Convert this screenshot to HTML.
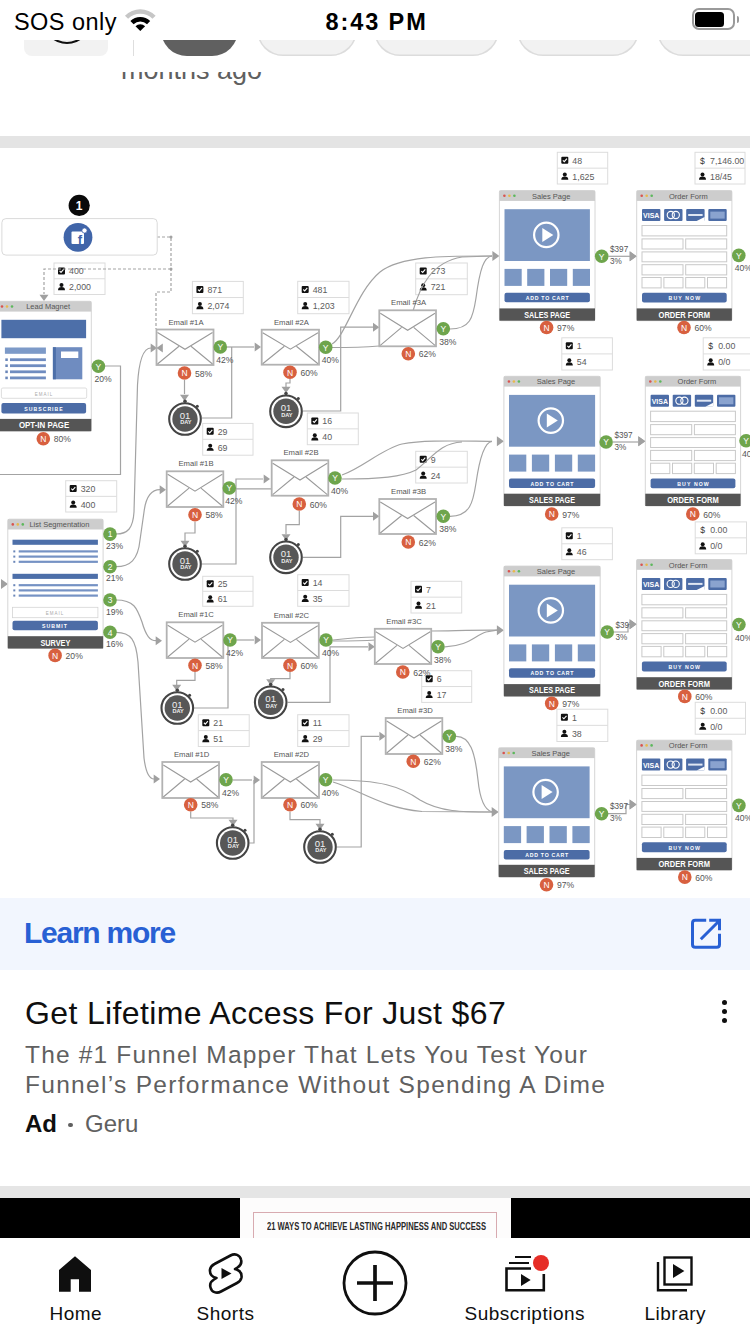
<!DOCTYPE html>
<html><head><meta charset="utf-8">
<style>
html,body{margin:0;padding:0;}
body{width:750px;height:1334px;position:relative;overflow:hidden;background:#fff;font-family:"Liberation Sans", sans-serif;}
.abs{position:absolute;}
.t{position:absolute;white-space:nowrap;line-height:1;}
</style></head><body>
<div class="t" style="left:121px;top:57px;font-size:27px;color:#606060;">months ago</div>
<div class="abs" style="left:0;top:136px;width:750px;height:12px;background:#e4e4e4;"></div>
<svg class="abs" style="left:0;top:148px;" width="750" height="750" viewBox="0 148 750 750" font-family='"Liberation Sans", sans-serif'>
<rect x="0" y="148" width="750" height="750" fill="#fff"/>
<rect x="54" y="263" width="51" height="31.5" fill="#fff" stroke="#dcdcdc" stroke-width="1"/>
<line x1="54" y1="278.75" x2="105" y2="278.75" stroke="#dcdcdc" stroke-width="1"/>
<rect x="58" y="267.375" width="7" height="7" rx="1" fill="#111"/>
<path d="M59.6,270.975 L61,272.375 L63.6,269.375" stroke="#fff" stroke-width="1.1" fill="none"/>
<circle cx="61.5" cy="285.025" r="2" fill="#111"/>
<path d="M58,290.22499999999997 Q58,287.025 61.5,287.025 Q65,287.025 65,290.22499999999997 Z" fill="#111"/>
<text x="69.0" y="274.3" font-size="8.8" fill="#5c5c5c" text-anchor="start" font-weight="normal" >400</text>
<text x="69.0" y="290.0" font-size="8.8" fill="#5c5c5c" text-anchor="start" font-weight="normal" >2,000</text>
<rect x="192.4" y="281.4" width="50.900000000000006" height="32.30000000000001" fill="#fff" stroke="#dcdcdc" stroke-width="1"/>
<line x1="192.4" y1="297.54999999999995" x2="243.3" y2="297.54999999999995" stroke="#dcdcdc" stroke-width="1"/>
<rect x="196.4" y="285.97499999999997" width="7" height="7" rx="1" fill="#111"/>
<path d="M198.0,289.575 L199.4,290.97499999999997 L202.0,287.97499999999997" stroke="#fff" stroke-width="1.1" fill="none"/>
<circle cx="199.9" cy="304.0249999999999" r="2" fill="#111"/>
<path d="M196.4,309.2249999999999 Q196.4,306.0249999999999 199.9,306.0249999999999 Q203.4,306.0249999999999 203.4,309.2249999999999 Z" fill="#111"/>
<text x="207.4" y="292.9" font-size="8.8" fill="#5c5c5c" text-anchor="start" font-weight="normal" >871</text>
<text x="207.4" y="309.0" font-size="8.8" fill="#5c5c5c" text-anchor="start" font-weight="normal" >2,074</text>
<rect x="297.7" y="281.3" width="51.30000000000001" height="32.39999999999998" fill="#fff" stroke="#dcdcdc" stroke-width="1"/>
<line x1="297.7" y1="297.5" x2="349" y2="297.5" stroke="#dcdcdc" stroke-width="1"/>
<rect x="301.7" y="285.9" width="7" height="7" rx="1" fill="#111"/>
<path d="M303.3,289.5 L304.7,290.9 L307.3,287.9" stroke="#fff" stroke-width="1.1" fill="none"/>
<circle cx="305.2" cy="304.0" r="2" fill="#111"/>
<path d="M301.7,309.2 Q301.7,306.0 305.2,306.0 Q308.7,306.0 308.7,309.2 Z" fill="#111"/>
<text x="312.7" y="292.8" font-size="8.8" fill="#5c5c5c" text-anchor="start" font-weight="normal" >481</text>
<text x="312.7" y="309.0" font-size="8.8" fill="#5c5c5c" text-anchor="start" font-weight="normal" >1,203</text>
<rect x="415.7" y="263" width="51.60000000000002" height="31.69999999999999" fill="#fff" stroke="#dcdcdc" stroke-width="1"/>
<line x1="415.7" y1="278.85" x2="467.3" y2="278.85" stroke="#dcdcdc" stroke-width="1"/>
<rect x="419.7" y="267.425" width="7" height="7" rx="1" fill="#111"/>
<path d="M421.3,271.02500000000003 L422.7,272.425 L425.3,269.425" stroke="#fff" stroke-width="1.1" fill="none"/>
<circle cx="423.2" cy="285.175" r="2" fill="#111"/>
<path d="M419.7,290.375 Q419.7,287.175 423.2,287.175 Q426.7,287.175 426.7,290.375 Z" fill="#111"/>
<text x="430.7" y="274.3" font-size="8.8" fill="#5c5c5c" text-anchor="start" font-weight="normal" >273</text>
<text x="430.7" y="290.2" font-size="8.8" fill="#5c5c5c" text-anchor="start" font-weight="normal" >721</text>
<rect x="557.3" y="152.3" width="50.40000000000009" height="31.69999999999999" fill="#fff" stroke="#dcdcdc" stroke-width="1"/>
<line x1="557.3" y1="168.15" x2="607.7" y2="168.15" stroke="#dcdcdc" stroke-width="1"/>
<rect x="561.3" y="156.72500000000002" width="7" height="7" rx="1" fill="#111"/>
<path d="M562.9,160.32500000000002 L564.3,161.72500000000002 L566.9,158.72500000000002" stroke="#fff" stroke-width="1.1" fill="none"/>
<circle cx="564.8" cy="174.475" r="2" fill="#111"/>
<path d="M561.3,179.67499999999998 Q561.3,176.475 564.8,176.475 Q568.3,176.475 568.3,179.67499999999998 Z" fill="#111"/>
<text x="572.3" y="163.6" font-size="8.8" fill="#5c5c5c" text-anchor="start" font-weight="normal" >48</text>
<text x="572.3" y="179.5" font-size="8.8" fill="#5c5c5c" text-anchor="start" font-weight="normal" >1,625</text>
<rect x="695" y="152.3" width="50" height="31.69999999999999" fill="#fff" stroke="#dcdcdc" stroke-width="1"/>
<line x1="695" y1="168.15" x2="745" y2="168.15" stroke="#dcdcdc" stroke-width="1"/>
<text x="702.5" y="163.6" font-size="8.6" fill="#333" text-anchor="middle" font-weight="normal" >$</text>
<circle cx="702.5" cy="174.475" r="2" fill="#111"/>
<path d="M699,179.67499999999998 Q699,176.475 702.5,176.475 Q706,176.475 706,179.67499999999998 Z" fill="#111"/>
<text x="710.0" y="163.6" font-size="8.8" fill="#5c5c5c" text-anchor="start" font-weight="normal" >7,146.00</text>
<text x="710.0" y="179.5" font-size="8.8" fill="#5c5c5c" text-anchor="start" font-weight="normal" >18/45</text>
<rect x="202.7" y="423.4" width="50.30000000000001" height="31.80000000000001" fill="#fff" stroke="#dcdcdc" stroke-width="1"/>
<line x1="202.7" y1="439.29999999999995" x2="253" y2="439.29999999999995" stroke="#dcdcdc" stroke-width="1"/>
<rect x="206.7" y="427.84999999999997" width="7" height="7" rx="1" fill="#111"/>
<path d="M208.29999999999998,431.45 L209.7,432.84999999999997 L212.29999999999998,429.84999999999997" stroke="#fff" stroke-width="1.1" fill="none"/>
<circle cx="210.2" cy="445.6499999999999" r="2" fill="#111"/>
<path d="M206.7,450.8499999999999 Q206.7,447.6499999999999 210.2,447.6499999999999 Q213.7,447.6499999999999 213.7,450.8499999999999 Z" fill="#111"/>
<text x="217.7" y="434.7" font-size="8.8" fill="#5c5c5c" text-anchor="start" font-weight="normal" >29</text>
<text x="217.7" y="450.6" font-size="8.8" fill="#5c5c5c" text-anchor="start" font-weight="normal" >69</text>
<rect x="307.3" y="413" width="51.0" height="31.69999999999999" fill="#fff" stroke="#dcdcdc" stroke-width="1"/>
<line x1="307.3" y1="428.85" x2="358.3" y2="428.85" stroke="#dcdcdc" stroke-width="1"/>
<rect x="311.3" y="417.425" width="7" height="7" rx="1" fill="#111"/>
<path d="M312.90000000000003,421.02500000000003 L314.3,422.425 L316.90000000000003,419.425" stroke="#fff" stroke-width="1.1" fill="none"/>
<circle cx="314.8" cy="435.175" r="2" fill="#111"/>
<path d="M311.3,440.375 Q311.3,437.175 314.8,437.175 Q318.3,437.175 318.3,440.375 Z" fill="#111"/>
<text x="322.3" y="424.3" font-size="8.8" fill="#5c5c5c" text-anchor="start" font-weight="normal" >16</text>
<text x="322.3" y="440.2" font-size="8.8" fill="#5c5c5c" text-anchor="start" font-weight="normal" >40</text>
<rect x="65.7" y="480.7" width="51.0" height="31.30000000000001" fill="#fff" stroke="#dcdcdc" stroke-width="1"/>
<line x1="65.7" y1="496.35" x2="116.7" y2="496.35" stroke="#dcdcdc" stroke-width="1"/>
<rect x="69.7" y="485.025" width="7" height="7" rx="1" fill="#111"/>
<path d="M71.3,488.625 L72.7,490.025 L75.3,487.025" stroke="#fff" stroke-width="1.1" fill="none"/>
<circle cx="73.2" cy="502.575" r="2" fill="#111"/>
<path d="M69.7,507.775 Q69.7,504.575 73.2,504.575 Q76.7,504.575 76.7,507.775 Z" fill="#111"/>
<text x="80.7" y="491.9" font-size="8.8" fill="#5c5c5c" text-anchor="start" font-weight="normal" >320</text>
<text x="80.7" y="507.6" font-size="8.8" fill="#5c5c5c" text-anchor="start" font-weight="normal" >400</text>
<rect x="415.7" y="451.3" width="51.60000000000002" height="31.69999999999999" fill="#fff" stroke="#dcdcdc" stroke-width="1"/>
<line x1="415.7" y1="467.15" x2="467.3" y2="467.15" stroke="#dcdcdc" stroke-width="1"/>
<rect x="419.7" y="455.725" width="7" height="7" rx="1" fill="#111"/>
<path d="M421.3,459.32500000000005 L422.7,460.725 L425.3,457.725" stroke="#fff" stroke-width="1.1" fill="none"/>
<circle cx="423.2" cy="473.47499999999997" r="2" fill="#111"/>
<path d="M419.7,478.67499999999995 Q419.7,475.47499999999997 423.2,475.47499999999997 Q426.7,475.47499999999997 426.7,478.67499999999995 Z" fill="#111"/>
<text x="430.7" y="462.6" font-size="8.8" fill="#5c5c5c" text-anchor="start" font-weight="normal" >9</text>
<text x="430.7" y="478.5" font-size="8.8" fill="#5c5c5c" text-anchor="start" font-weight="normal" >24</text>
<rect x="561.8" y="337.8" width="50.60000000000002" height="32.19999999999999" fill="#fff" stroke="#dcdcdc" stroke-width="1"/>
<line x1="561.8" y1="353.9" x2="612.4" y2="353.9" stroke="#dcdcdc" stroke-width="1"/>
<rect x="565.8" y="342.35" width="7" height="7" rx="1" fill="#111"/>
<path d="M567.4,345.95000000000005 L568.8,347.35 L571.4,344.35" stroke="#fff" stroke-width="1.1" fill="none"/>
<circle cx="569.3" cy="360.34999999999997" r="2" fill="#111"/>
<path d="M565.8,365.54999999999995 Q565.8,362.34999999999997 569.3,362.34999999999997 Q572.8,362.34999999999997 572.8,365.54999999999995 Z" fill="#111"/>
<text x="576.8" y="349.2" font-size="8.8" fill="#5c5c5c" text-anchor="start" font-weight="normal" >1</text>
<text x="576.8" y="365.3" font-size="8.8" fill="#5c5c5c" text-anchor="start" font-weight="normal" >54</text>
<rect x="703.2" y="337.8" width="49.799999999999955" height="32.19999999999999" fill="#fff" stroke="#dcdcdc" stroke-width="1"/>
<line x1="703.2" y1="353.9" x2="753" y2="353.9" stroke="#dcdcdc" stroke-width="1"/>
<text x="710.7" y="349.2" font-size="8.6" fill="#333" text-anchor="middle" font-weight="normal" >$</text>
<circle cx="710.7" cy="360.34999999999997" r="2" fill="#111"/>
<path d="M707.2,365.54999999999995 Q707.2,362.34999999999997 710.7,362.34999999999997 Q714.2,362.34999999999997 714.2,365.54999999999995 Z" fill="#111"/>
<text x="718.2" y="349.2" font-size="8.8" fill="#5c5c5c" text-anchor="start" font-weight="normal" >0.00</text>
<text x="718.2" y="365.3" font-size="8.8" fill="#5c5c5c" text-anchor="start" font-weight="normal" >0/0</text>
<rect x="202.7" y="576.3" width="50.30000000000001" height="30.0" fill="#fff" stroke="#dcdcdc" stroke-width="1"/>
<line x1="202.7" y1="591.3" x2="253" y2="591.3" stroke="#dcdcdc" stroke-width="1"/>
<rect x="206.7" y="580.3" width="7" height="7" rx="1" fill="#111"/>
<path d="M208.29999999999998,583.9 L209.7,585.3 L212.29999999999998,582.3" stroke="#fff" stroke-width="1.1" fill="none"/>
<circle cx="210.2" cy="597.1999999999999" r="2" fill="#111"/>
<path d="M206.7,602.4 Q206.7,599.1999999999999 210.2,599.1999999999999 Q213.7,599.1999999999999 213.7,602.4 Z" fill="#111"/>
<text x="217.7" y="587.2" font-size="8.8" fill="#5c5c5c" text-anchor="start" font-weight="normal" >25</text>
<text x="217.7" y="602.2" font-size="8.8" fill="#5c5c5c" text-anchor="start" font-weight="normal" >61</text>
<rect x="297.7" y="574.7" width="51.30000000000001" height="31.59999999999991" fill="#fff" stroke="#dcdcdc" stroke-width="1"/>
<line x1="297.7" y1="590.5" x2="349" y2="590.5" stroke="#dcdcdc" stroke-width="1"/>
<rect x="301.7" y="579.1" width="7" height="7" rx="1" fill="#111"/>
<path d="M303.3,582.7 L304.7,584.1 L307.3,581.1" stroke="#fff" stroke-width="1.1" fill="none"/>
<circle cx="305.2" cy="596.8" r="2" fill="#111"/>
<path d="M301.7,602.0 Q301.7,598.8 305.2,598.8 Q308.7,598.8 308.7,602.0 Z" fill="#111"/>
<text x="312.7" y="586.0" font-size="8.8" fill="#5c5c5c" text-anchor="start" font-weight="normal" >14</text>
<text x="312.7" y="601.8" font-size="8.8" fill="#5c5c5c" text-anchor="start" font-weight="normal" >35</text>
<rect x="411" y="581.3" width="50.69999999999999" height="31.700000000000045" fill="#fff" stroke="#dcdcdc" stroke-width="1"/>
<line x1="411" y1="597.15" x2="461.7" y2="597.15" stroke="#dcdcdc" stroke-width="1"/>
<rect x="415" y="585.7249999999999" width="7" height="7" rx="1" fill="#111"/>
<path d="M416.6,589.3249999999999 L418,590.7249999999999 L420.6,587.7249999999999" stroke="#fff" stroke-width="1.1" fill="none"/>
<circle cx="418.5" cy="603.475" r="2" fill="#111"/>
<path d="M415,608.6750000000001 Q415,605.475 418.5,605.475 Q422,605.475 422,608.6750000000001 Z" fill="#111"/>
<text x="426.0" y="592.6" font-size="8.8" fill="#5c5c5c" text-anchor="start" font-weight="normal" >7</text>
<text x="426.0" y="608.5" font-size="8.8" fill="#5c5c5c" text-anchor="start" font-weight="normal" >21</text>
<rect x="561.8" y="527.8" width="50.60000000000002" height="31.90000000000009" fill="#fff" stroke="#dcdcdc" stroke-width="1"/>
<line x1="561.8" y1="543.75" x2="612.4" y2="543.75" stroke="#dcdcdc" stroke-width="1"/>
<rect x="565.8" y="532.275" width="7" height="7" rx="1" fill="#111"/>
<path d="M567.4,535.875 L568.8,537.275 L571.4,534.275" stroke="#fff" stroke-width="1.1" fill="none"/>
<circle cx="569.3" cy="550.125" r="2" fill="#111"/>
<path d="M565.8,555.325 Q565.8,552.125 569.3,552.125 Q572.8,552.125 572.8,555.325 Z" fill="#111"/>
<text x="576.8" y="539.2" font-size="8.8" fill="#5c5c5c" text-anchor="start" font-weight="normal" >1</text>
<text x="576.8" y="555.1" font-size="8.8" fill="#5c5c5c" text-anchor="start" font-weight="normal" >46</text>
<rect x="695.2" y="521.9" width="51.299999999999955" height="31.899999999999977" fill="#fff" stroke="#dcdcdc" stroke-width="1"/>
<line x1="695.2" y1="537.8499999999999" x2="746.5" y2="537.8499999999999" stroke="#dcdcdc" stroke-width="1"/>
<text x="702.7" y="533.3" font-size="8.6" fill="#333" text-anchor="middle" font-weight="normal" >$</text>
<circle cx="702.7" cy="544.2249999999999" r="2" fill="#111"/>
<path d="M699.2,549.425 Q699.2,546.2249999999999 702.7,546.2249999999999 Q706.2,546.2249999999999 706.2,549.425 Z" fill="#111"/>
<text x="710.2" y="533.3" font-size="8.8" fill="#5c5c5c" text-anchor="start" font-weight="normal" >0.00</text>
<text x="710.2" y="549.2" font-size="8.8" fill="#5c5c5c" text-anchor="start" font-weight="normal" >0/0</text>
<rect x="198.3" y="714.7" width="50.89999999999998" height="31.799999999999955" fill="#fff" stroke="#dcdcdc" stroke-width="1"/>
<line x1="198.3" y1="730.6" x2="249.2" y2="730.6" stroke="#dcdcdc" stroke-width="1"/>
<rect x="202.3" y="719.1500000000001" width="7" height="7" rx="1" fill="#111"/>
<path d="M203.9,722.7500000000001 L205.3,724.1500000000001 L207.9,721.1500000000001" stroke="#fff" stroke-width="1.1" fill="none"/>
<circle cx="205.8" cy="736.9499999999999" r="2" fill="#111"/>
<path d="M202.3,742.15 Q202.3,738.9499999999999 205.8,738.9499999999999 Q209.3,738.9499999999999 209.3,742.15 Z" fill="#111"/>
<text x="213.3" y="726.1" font-size="8.8" fill="#5c5c5c" text-anchor="start" font-weight="normal" >21</text>
<text x="213.3" y="741.9" font-size="8.8" fill="#5c5c5c" text-anchor="start" font-weight="normal" >51</text>
<rect x="297.7" y="714.7" width="51.30000000000001" height="31.799999999999955" fill="#fff" stroke="#dcdcdc" stroke-width="1"/>
<line x1="297.7" y1="730.6" x2="349" y2="730.6" stroke="#dcdcdc" stroke-width="1"/>
<rect x="301.7" y="719.1500000000001" width="7" height="7" rx="1" fill="#111"/>
<path d="M303.3,722.7500000000001 L304.7,724.1500000000001 L307.3,721.1500000000001" stroke="#fff" stroke-width="1.1" fill="none"/>
<circle cx="305.2" cy="736.9499999999999" r="2" fill="#111"/>
<path d="M301.7,742.15 Q301.7,738.9499999999999 305.2,738.9499999999999 Q308.7,738.9499999999999 308.7,742.15 Z" fill="#111"/>
<text x="312.7" y="726.1" font-size="8.8" fill="#5c5c5c" text-anchor="start" font-weight="normal" >11</text>
<text x="312.7" y="741.9" font-size="8.8" fill="#5c5c5c" text-anchor="start" font-weight="normal" >29</text>
<rect x="421.7" y="670.7" width="50.0" height="31.699999999999932" fill="#fff" stroke="#dcdcdc" stroke-width="1"/>
<line x1="421.7" y1="686.55" x2="471.7" y2="686.55" stroke="#dcdcdc" stroke-width="1"/>
<rect x="425.7" y="675.125" width="7" height="7" rx="1" fill="#111"/>
<path d="M427.3,678.725 L428.7,680.125 L431.3,677.125" stroke="#fff" stroke-width="1.1" fill="none"/>
<circle cx="429.2" cy="692.8749999999999" r="2" fill="#111"/>
<path d="M425.7,698.0749999999999 Q425.7,694.8749999999999 429.2,694.8749999999999 Q432.7,694.8749999999999 432.7,698.0749999999999 Z" fill="#111"/>
<text x="436.7" y="682.0" font-size="8.8" fill="#5c5c5c" text-anchor="start" font-weight="normal" >6</text>
<text x="436.7" y="697.9" font-size="8.8" fill="#5c5c5c" text-anchor="start" font-weight="normal" >17</text>
<rect x="556.9" y="709.2" width="50.89999999999998" height="32.299999999999955" fill="#fff" stroke="#dcdcdc" stroke-width="1"/>
<line x1="556.9" y1="725.35" x2="607.8" y2="725.35" stroke="#dcdcdc" stroke-width="1"/>
<rect x="560.9" y="713.7750000000001" width="7" height="7" rx="1" fill="#111"/>
<path d="M562.5,717.3750000000001 L563.9,718.7750000000001 L566.5,715.7750000000001" stroke="#fff" stroke-width="1.1" fill="none"/>
<circle cx="564.4" cy="731.8249999999999" r="2" fill="#111"/>
<path d="M560.9,737.025 Q560.9,733.8249999999999 564.4,733.8249999999999 Q567.9,733.8249999999999 567.9,737.025 Z" fill="#111"/>
<text x="571.9" y="720.7" font-size="8.8" fill="#5c5c5c" text-anchor="start" font-weight="normal" >1</text>
<text x="571.9" y="736.8" font-size="8.8" fill="#5c5c5c" text-anchor="start" font-weight="normal" >38</text>
<rect x="695.2" y="702.3" width="50.299999999999955" height="31.90000000000009" fill="#fff" stroke="#dcdcdc" stroke-width="1"/>
<line x1="695.2" y1="718.25" x2="745.5" y2="718.25" stroke="#dcdcdc" stroke-width="1"/>
<text x="702.7" y="713.7" font-size="8.6" fill="#333" text-anchor="middle" font-weight="normal" >$</text>
<circle cx="702.7" cy="724.625" r="2" fill="#111"/>
<path d="M699.2,729.825 Q699.2,726.625 702.7,726.625 Q706.2,726.625 706.2,729.825 Z" fill="#111"/>
<text x="710.2" y="713.7" font-size="8.8" fill="#5c5c5c" text-anchor="start" font-weight="normal" >0.00</text>
<text x="710.2" y="729.6" font-size="8.8" fill="#5c5c5c" text-anchor="start" font-weight="normal" >0/0</text>
<path d="M157,237 H171 V292 H156 V329" fill="none" stroke="#a3a3a3" stroke-width="1.2" stroke-dasharray="3,2"/>
<path d="M171,269 H44 V294" fill="none" stroke="#a3a3a3" stroke-width="1.2" stroke-dasharray="3,2"/>
<polygon points="44,301 39.5,294.7 48.5,294.7" fill="#a0a0a0"/>
<circle cx="171" cy="237" r="1.5" fill="#a3a3a3"/><circle cx="171" cy="269" r="1.5" fill="#a3a3a3"/>
<path d="M105,366 H120.5 V474.5 H0" fill="none" stroke="#a3a3a3" stroke-width="1.2"/>
<polygon points="8,584 1.0,579 1.0,589" fill="#a0a0a0"/>
<path d="M116,534 C128,534 133,528 134,512 L137.5,385 C139,358 144,348 151,348" fill="none" stroke="#a3a3a3" stroke-width="1.2"/>
<polygon points="157,348 150.7,343.5 150.7,352.5" fill="#a0a0a0"/>
<path d="M116,566.7 C130,566.7 138,560 140,540 L144,512 C146,495 152,489.7 160,489.7" fill="none" stroke="#a3a3a3" stroke-width="1.2"/>
<polygon points="166,489.7 159.7,485.2 159.7,494.2" fill="#a0a0a0"/>
<path d="M116,600 C134,600 137,608 142,622 C146,636 150,640.7 156,640.7" fill="none" stroke="#a3a3a3" stroke-width="1.2"/>
<polygon points="162,640.7 155.7,636.2 155.7,645.2" fill="#a0a0a0"/>
<path d="M116,632.3 C131,632.3 136,640 138,662 L144,758 C146,774 150,779 154,779" fill="none" stroke="#a3a3a3" stroke-width="1.2"/>
<polygon points="160,779 153.7,774.5 153.7,783.5" fill="#a0a0a0"/>
<path d="M227,347 H254" fill="none" stroke="#a3a3a3" stroke-width="1.2"/>
<path d="M202,418 H231.7 V347" fill="none" stroke="#a3a3a3" stroke-width="1.2"/>
<polygon points="261,347 254.7,342.5 254.7,351.5" fill="#a0a0a0"/>
<path d="M236,488.8 H272" fill="none" stroke="#a3a3a3" stroke-width="1.2"/>
<path d="M202,564 H236 V479 H263" fill="none" stroke="#a3a3a3" stroke-width="1.2"/>
<polygon points="270,479 263.7,474.5 263.7,483.5" fill="#a0a0a0"/>
<path d="M237,640 H254" fill="none" stroke="#a3a3a3" stroke-width="1.2"/>
<path d="M194,708 H228 V640" fill="none" stroke="#a3a3a3" stroke-width="1.2"/>
<polygon points="261,640 254.7,635.5 254.7,644.5" fill="#a0a0a0"/>
<path d="M233,780 H252" fill="none" stroke="#a3a3a3" stroke-width="1.2"/>
<path d="M249.5,843 H254 V780" fill="none" stroke="#a3a3a3" stroke-width="1.2"/>
<polygon points="260,780 253.7,775.5 253.7,784.5" fill="#a0a0a0"/>
<path d="M184.5,380 V394" fill="none" stroke="#a3a3a3" stroke-width="1.2"/>
<polygon points="184.5,401 180.0,394.7 189.0,394.7" fill="#a0a0a0"/>
<path d="M195,521.7 V533 H185 V541" fill="none" stroke="#a3a3a3" stroke-width="1.2"/>
<polygon points="185,547 180.5,540.7 189.5,540.7" fill="#a0a0a0"/>
<path d="M195,672 V680.3 H176.7 V685" fill="none" stroke="#a3a3a3" stroke-width="1.2"/>
<polygon points="176.7,691 172.2,684.7 181.2,684.7" fill="#a0a0a0"/>
<path d="M190.7,811.5 V818 H233 V820" fill="none" stroke="#a3a3a3" stroke-width="1.2"/>
<polygon points="233,826 228.5,819.7 237.5,819.7" fill="#a0a0a0"/>
<path d="M290,379 V383 H286 V387" fill="none" stroke="#a3a3a3" stroke-width="1.2"/>
<polygon points="286,393 281.5,386.7 290.5,386.7" fill="#a0a0a0"/>
<path d="M299.3,511 V524.7 H286 V534" fill="none" stroke="#a3a3a3" stroke-width="1.2"/>
<polygon points="286,540.5 281.5,534.2 290.5,534.2" fill="#a0a0a0"/>
<path d="M290,672 V678.7 H270.7 V680" fill="none" stroke="#a3a3a3" stroke-width="1.2"/>
<polygon points="270.7,685.5 266.2,679.2 275.2,679.2" fill="#a0a0a0"/>
<path d="M290,811.7 V819.7 H320 V824" fill="none" stroke="#a3a3a3" stroke-width="1.2"/>
<polygon points="320,830 315.5,823.7 324.5,823.7" fill="#a0a0a0"/>
<path d="M303,411 H340.7 V327.2 H373" fill="none" stroke="#a3a3a3" stroke-width="1.2"/>
<polygon points="379.3,327.2 373.0,322.7 373.0,331.7" fill="#a0a0a0"/>
<path d="M303,557.3 H340.7 V516.3 H373" fill="none" stroke="#a3a3a3" stroke-width="1.2"/>
<polygon points="379.3,516.3 373.0,511.79999999999995 373.0,520.8" fill="#a0a0a0"/>
<path d="M287.7,702.3 H330 V646.8 H368" fill="none" stroke="#a3a3a3" stroke-width="1.2"/>
<polygon points="374.8,646.8 368.5,642.3 368.5,651.3" fill="#a0a0a0"/>
<path d="M337,847 H361.2 V736.3 H379" fill="none" stroke="#a3a3a3" stroke-width="1.2"/>
<polygon points="385.7,736.3 379.4,731.8 379.4,740.8" fill="#a0a0a0"/>
<path d="M332,344 C346,336 356,292 380,272 C402,255 450,256 492,256" fill="none" stroke="#a3a3a3" stroke-width="1.2"/>
<path d="M332,347.5 C350,347.5 366,347 379,346" fill="none" stroke="#a3a3a3" stroke-width="1.2"/>
<path d="M413,311 C420,286 432,262 462,257 L492,256" fill="none" stroke="#a3a3a3" stroke-width="1.2"/>
<path d="M450,329 C470,329 473,318 476,298 C480,268 484,257 492,256" fill="none" stroke="#a3a3a3" stroke-width="1.2"/>
<polygon points="499.4,256 492.4,251 492.4,261" fill="#a0a0a0"/>
<path d="M342,475 C362,468 382,449 402,444 C424,440 452,441 492,441.3" fill="none" stroke="#a3a3a3" stroke-width="1.2"/>
<path d="M342,479 C380,479 402,477 416,470 C432,458 440,443 462,442" fill="none" stroke="#a3a3a3" stroke-width="1.2"/>
<path d="M450,516.3 C470,516 473,503 476,483 C480,455 485,442 492,441.3" fill="none" stroke="#a3a3a3" stroke-width="1.2"/>
<polygon points="503.9,441.3 496.9,436.3 496.9,446.3" fill="#a0a0a0"/>
<path d="M333,640 C350,638 362,637 375,637" fill="none" stroke="#a3a3a3" stroke-width="1.2"/>
<path d="M333,641 C350,641 362,641 375,640" fill="none" stroke="#a3a3a3" stroke-width="1.2"/>
<path d="M431,631 C450,631 470,630 497,630.2" fill="none" stroke="#a3a3a3" stroke-width="1.2"/>
<path d="M445,646.8 C468,646 474,636 486,632 L497,630.2" fill="none" stroke="#a3a3a3" stroke-width="1.2"/>
<polygon points="503.9,630.2 496.9,625.2 496.9,635.2" fill="#a0a0a0"/>
<path d="M333,780 C380,780 400,786 420,800 C440,812 462,812 492,812" fill="none" stroke="#a3a3a3" stroke-width="1.2"/>
<path d="M333,782 C360,790 382,808 422,811.5 L492,812" fill="none" stroke="#a3a3a3" stroke-width="1.2"/>
<path d="M456,736.3 C470,736 475,752 478,780 C480,800 485,810 492,812" fill="none" stroke="#a3a3a3" stroke-width="1.2"/>
<polygon points="498.7,812 491.7,807 491.7,817" fill="#a0a0a0"/>
<path d="M608.4,256.3 H630" fill="none" stroke="#a3a3a3" stroke-width="1.2"/>
<polygon points="636.7,256.3 629.7,251.3 629.7,261.3" fill="#a0a0a0"/>
<path d="M613,442 H638" fill="none" stroke="#a3a3a3" stroke-width="1.2"/>
<polygon points="645.3,441.3 638.3,436.3 638.3,446.3" fill="#a0a0a0"/>
<path d="M614,632 H628 V624.3 H630" fill="none" stroke="#a3a3a3" stroke-width="1.2"/>
<polygon points="636.6,624.3 629.6,619.3 629.6,629.3" fill="#a0a0a0"/>
<path d="M608,813.7 H626 V804.5 H630" fill="none" stroke="#a3a3a3" stroke-width="1.2"/>
<polygon points="636.6,804.5 629.6,799.5 629.6,809.5" fill="#a0a0a0"/>
<rect x="1.9" y="218.6" width="155.3" height="36.5" rx="4" fill="#fff" stroke="#dadada" stroke-width="1"/>
<circle cx="79.2" cy="205.4" r="10.6" fill="#0a0a0a"/>
<text x="79.2" y="209.6" font-size="12" fill="#fff" text-anchor="middle" font-weight="bold" >1</text>
<circle cx="78" cy="237.3" r="14.4" fill="#4065a9"/>
<rect x="71.5" y="231.5" width="12.5" height="12.5" rx="1" fill="#fff"/>
<text x="79.8" y="244.3" font-size="13" fill="#4065a9" text-anchor="middle" font-weight="bold" >f</text>
<circle cx="84.5" cy="230.5" r="2.6" fill="#fff" stroke="#4065a9" stroke-width="0.8"/>
<rect x="-3" y="301.3" width="94.3" height="129.89999999999998" rx="1.5" fill="#fff" stroke="#d6d6d6" stroke-width="1"/>
<rect x="-3" y="301.3" width="94.3" height="10.3" fill="#cdcdcd"/>
<circle cx="2" cy="306.5" r="1.3" fill="#d9534f"/>
<circle cx="7" cy="306.5" r="1.3" fill="#e8b84a"/>
<circle cx="12" cy="306.5" r="1.3" fill="#5cb85c"/>
<text x="48.1" y="309.3" font-size="7.5" fill="#555" text-anchor="middle" font-weight="normal" >Lead Magnet</text>
<rect x="-3" y="418.9" width="94.3" height="12.3" fill="#555555"/>
<text x="44.1" y="428.2" font-size="8.8" fill="#fff" text-anchor="middle" font-weight="bold" textLength="50.3" lengthAdjust="spacingAndGlyphs">OPT-IN PAGE</text>
<rect x="1.4" y="319.8" width="84.7" height="18.4" fill="#4d6fa9"/>
<rect x="4.9" y="347.5" width="41" height="6.3" fill="#7d9ac8"/>
<rect x="5.3" y="358.4" width="2.5" height="2.6" fill="#6a86b8"/>
<rect x="10" y="358.3" width="35.9" height="2.8" fill="#6f8cc0"/>
<rect x="5.3" y="364.4" width="2.5" height="2.6" fill="#6a86b8"/>
<rect x="10" y="364.3" width="35.9" height="2.8" fill="#6f8cc0"/>
<rect x="5.3" y="370.5" width="2.5" height="2.6" fill="#6a86b8"/>
<rect x="10" y="370.40000000000003" width="35.9" height="2.8" fill="#6f8cc0"/>
<rect x="5.3" y="376.59999999999997" width="2.5" height="2.6" fill="#6a86b8"/>
<rect x="10" y="376.5" width="35.9" height="2.8" fill="#6f8cc0"/>
<rect x="52.9" y="347.2" width="29.4" height="32.1" fill="#6f8cc0"/>
<rect x="52.9" y="347.2" width="3" height="32.1" fill="#4d6fa9"/>
<rect x="61" y="351.5" width="17.3" height="6.5" fill="#fff"/>
<rect x="1.4" y="388" width="85.3" height="10.3" rx="1.5" fill="#fff" stroke="#d4d4d4" stroke-width="0.8"/>
<text x="44.0" y="395.5" font-size="4.5" fill="#aaa" text-anchor="middle" font-weight="normal" letter-spacing="1">EMAIL</text>
<rect x="1.4" y="403" width="84.7" height="10.4" rx="2" fill="#4c6ca6"/>
<text x="44.0" y="410.5" font-size="5.2" fill="#fff" text-anchor="middle" font-weight="bold" letter-spacing="1">SUBSCRIBE</text>
<rect x="7.8" y="519.2" width="95.3" height="129.29999999999995" rx="1.5" fill="#fff" stroke="#d6d6d6" stroke-width="1"/>
<rect x="7.8" y="519.2" width="95.3" height="10.3" fill="#cdcdcd"/>
<circle cx="12.8" cy="524.4000000000001" r="1.3" fill="#d9534f"/>
<circle cx="17.8" cy="524.4000000000001" r="1.3" fill="#e8b84a"/>
<circle cx="22.8" cy="524.4000000000001" r="1.3" fill="#5cb85c"/>
<text x="59.4" y="527.2" font-size="7.5" fill="#555" text-anchor="middle" font-weight="normal" >List Segmentation</text>
<rect x="7.8" y="636.2" width="95.3" height="12.3" fill="#555555"/>
<text x="55.4" y="645.5" font-size="8.8" fill="#fff" text-anchor="middle" font-weight="bold" textLength="30" lengthAdjust="spacingAndGlyphs">SURVEY</text>
<rect x="12.5" y="539.7" width="85.4" height="5.1" fill="#4d6fa9"/>
<rect x="13.3" y="550.4" width="2" height="2" fill="#6a86b8"/>
<rect x="18.7" y="550.3" width="79.2" height="2.2" fill="#7592c4"/>
<rect x="13.3" y="555.6" width="2" height="2" fill="#6a86b8"/>
<rect x="18.7" y="555.5" width="79.2" height="2.2" fill="#7592c4"/>
<rect x="13.3" y="560.8" width="2" height="2" fill="#6a86b8"/>
<rect x="18.7" y="560.6999999999999" width="79.2" height="2.2" fill="#7592c4"/>
<rect x="12.5" y="573.8" width="85.4" height="5.1" fill="#4d6fa9"/>
<rect x="13.3" y="584.2" width="2" height="2" fill="#6a86b8"/>
<rect x="18.7" y="584.1" width="79.2" height="2.2" fill="#7592c4"/>
<rect x="13.3" y="589.4" width="2" height="2" fill="#6a86b8"/>
<rect x="18.7" y="589.3" width="79.2" height="2.2" fill="#7592c4"/>
<rect x="13.3" y="594.6" width="2" height="2" fill="#6a86b8"/>
<rect x="18.7" y="594.5" width="79.2" height="2.2" fill="#7592c4"/>
<rect x="12.5" y="607.3" width="85.4" height="10.4" fill="#fff" stroke="#d4d4d4" stroke-width="0.8"/>
<text x="55.0" y="614.8" font-size="4.5" fill="#aaa" text-anchor="middle" font-weight="normal" letter-spacing="1">EMAIL</text>
<rect x="12.5" y="620.8" width="85.4" height="9.5" rx="2" fill="#4c6ca6"/>
<text x="55.0" y="627.8" font-size="5.2" fill="#fff" text-anchor="middle" font-weight="bold" letter-spacing="1">SUBMIT</text>
<text x="186.0" y="324.5" font-size="7.7" fill="#555555" text-anchor="middle" font-weight="normal" >Email #1A</text>
<rect x="156.5" y="329.5" width="57.0" height="35.5" fill="#fff" stroke="#b2b2b2" stroke-width="1.8"/>
<path d="M157.5,332.5 L185.0,349.25 L212.5,332.5" fill="none" stroke="#9a9a9a" stroke-width="1.1"/>
<path d="M157.5,364 L179.0,346.25 M212.5,364 L191.0,346.25" fill="none" stroke="#9a9a9a" stroke-width="1.1"/>
<text x="291.4" y="324.7" font-size="7.7" fill="#555555" text-anchor="middle" font-weight="normal" >Email #2A</text>
<rect x="261.7" y="329.7" width="57.30000000000001" height="35.0" fill="#fff" stroke="#b2b2b2" stroke-width="1.8"/>
<path d="M262.7,332.7 L290.35,349.2 L318,332.7" fill="none" stroke="#9a9a9a" stroke-width="1.1"/>
<path d="M262.7,363.7 L284.35,346.2 M318,363.7 L296.35,346.2" fill="none" stroke="#9a9a9a" stroke-width="1.1"/>
<text x="408.6" y="305.3" font-size="7.7" fill="#555555" text-anchor="middle" font-weight="normal" >Email #3A</text>
<rect x="379.3" y="310.3" width="56.69999999999999" height="36.0" fill="#fff" stroke="#b2b2b2" stroke-width="1.8"/>
<path d="M380.3,313.3 L407.65,330.3 L435,313.3" fill="none" stroke="#9a9a9a" stroke-width="1.1"/>
<path d="M380.3,345.3 L401.65,327.3 M435,345.3 L413.65,327.3" fill="none" stroke="#9a9a9a" stroke-width="1.1"/>
<text x="196.0" y="466.3" font-size="7.7" fill="#555555" text-anchor="middle" font-weight="normal" >Email #1B</text>
<rect x="166.7" y="471.3" width="56.60000000000002" height="35.69999999999999" fill="#fff" stroke="#b2b2b2" stroke-width="1.8"/>
<path d="M167.7,474.3 L195.0,491.15 L222.3,474.3" fill="none" stroke="#9a9a9a" stroke-width="1.1"/>
<path d="M167.7,506 L189.0,488.15 M222.3,506 L201.0,488.15" fill="none" stroke="#9a9a9a" stroke-width="1.1"/>
<text x="301.0" y="455.3" font-size="7.7" fill="#555555" text-anchor="middle" font-weight="normal" >Email #2B</text>
<rect x="271.7" y="460.3" width="56.60000000000002" height="35.39999999999998" fill="#fff" stroke="#b2b2b2" stroke-width="1.8"/>
<path d="M272.7,463.3 L300.0,480.0 L327.3,463.3" fill="none" stroke="#9a9a9a" stroke-width="1.1"/>
<path d="M272.7,494.7 L294.0,477.0 M327.3,494.7 L306.0,477.0" fill="none" stroke="#9a9a9a" stroke-width="1.1"/>
<text x="408.6" y="494.0" font-size="7.7" fill="#555555" text-anchor="middle" font-weight="normal" >Email #3B</text>
<rect x="379.3" y="499" width="56.69999999999999" height="35" fill="#fff" stroke="#b2b2b2" stroke-width="1.8"/>
<path d="M380.3,502 L407.65,518.5 L435,502" fill="none" stroke="#9a9a9a" stroke-width="1.1"/>
<path d="M380.3,533 L401.65,515.5 M435,533 L413.65,515.5" fill="none" stroke="#9a9a9a" stroke-width="1.1"/>
<text x="196.0" y="617.3" font-size="7.7" fill="#555555" text-anchor="middle" font-weight="normal" >Email #1C</text>
<rect x="166.7" y="622.3" width="56.60000000000002" height="35.700000000000045" fill="#fff" stroke="#b2b2b2" stroke-width="1.8"/>
<path d="M167.7,625.3 L195.0,642.15 L222.3,625.3" fill="none" stroke="#9a9a9a" stroke-width="1.1"/>
<path d="M167.7,657 L189.0,639.15 M222.3,657 L201.0,639.15" fill="none" stroke="#9a9a9a" stroke-width="1.1"/>
<text x="291.4" y="617.8" font-size="7.7" fill="#555555" text-anchor="middle" font-weight="normal" >Email #2C</text>
<rect x="262" y="622.8" width="56.80000000000001" height="35.200000000000045" fill="#fff" stroke="#b2b2b2" stroke-width="1.8"/>
<path d="M263,625.8 L290.4,642.4 L317.8,625.8" fill="none" stroke="#9a9a9a" stroke-width="1.1"/>
<path d="M263,657 L284.4,639.4 M317.8,657 L296.4,639.4" fill="none" stroke="#9a9a9a" stroke-width="1.1"/>
<text x="404.0" y="623.8" font-size="7.7" fill="#555555" text-anchor="middle" font-weight="normal" >Email #3C</text>
<rect x="374.8" y="628.8" width="56.39999999999998" height="35.200000000000045" fill="#fff" stroke="#b2b2b2" stroke-width="1.8"/>
<path d="M375.8,631.8 L403.0,648.4 L430.2,631.8" fill="none" stroke="#9a9a9a" stroke-width="1.1"/>
<path d="M375.8,663 L397.0,645.4 M430.2,663 L409.0,645.4" fill="none" stroke="#9a9a9a" stroke-width="1.1"/>
<text x="191.7" y="757.0" font-size="7.7" fill="#555555" text-anchor="middle" font-weight="normal" >Email #1D</text>
<rect x="162.3" y="762" width="56.69999999999999" height="36" fill="#fff" stroke="#b2b2b2" stroke-width="1.8"/>
<path d="M163.3,765 L190.65,782.0 L218,765" fill="none" stroke="#9a9a9a" stroke-width="1.1"/>
<path d="M163.3,797 L184.65,779.0 M218,797 L196.65,779.0" fill="none" stroke="#9a9a9a" stroke-width="1.1"/>
<text x="291.4" y="757.0" font-size="7.7" fill="#555555" text-anchor="middle" font-weight="normal" >Email #2D</text>
<rect x="261.7" y="762" width="57.30000000000001" height="36" fill="#fff" stroke="#b2b2b2" stroke-width="1.8"/>
<path d="M262.7,765 L290.35,782.0 L318,765" fill="none" stroke="#9a9a9a" stroke-width="1.1"/>
<path d="M262.7,797 L284.35,779.0 M318,797 L296.35,779.0" fill="none" stroke="#9a9a9a" stroke-width="1.1"/>
<text x="415.0" y="713.0" font-size="7.7" fill="#555555" text-anchor="middle" font-weight="normal" >Email #3D</text>
<rect x="385.7" y="718" width="56.60000000000002" height="36" fill="#fff" stroke="#b2b2b2" stroke-width="1.8"/>
<path d="M386.7,721 L414.0,738.0 L441.3,721" fill="none" stroke="#9a9a9a" stroke-width="1.1"/>
<path d="M386.7,753 L408.0,735.0 M441.3,753 L420.0,735.0" fill="none" stroke="#9a9a9a" stroke-width="1.1"/>
<circle cx="220.3" cy="347" r="6.8" fill="#6ea54c"/>
<text x="220.3" y="350.3" font-size="8.5" fill="#fff" text-anchor="middle" font-weight="normal" >Y</text>
<text x="216.3" y="363.0" font-size="8.6" fill="#555" text-anchor="start" font-weight="normal" >42%</text>
<circle cx="325.7" cy="347.3" r="6.8" fill="#6ea54c"/>
<text x="325.7" y="350.6" font-size="8.5" fill="#fff" text-anchor="middle" font-weight="normal" >Y</text>
<text x="321.7" y="363.3" font-size="8.6" fill="#555" text-anchor="start" font-weight="normal" >40%</text>
<circle cx="443.3" cy="328.7" r="6.8" fill="#6ea54c"/>
<text x="443.3" y="332.0" font-size="8.5" fill="#fff" text-anchor="middle" font-weight="normal" >Y</text>
<text x="439.3" y="344.7" font-size="8.6" fill="#555" text-anchor="start" font-weight="normal" >38%</text>
<circle cx="229.3" cy="488" r="6.8" fill="#6ea54c"/>
<text x="229.3" y="491.3" font-size="8.5" fill="#fff" text-anchor="middle" font-weight="normal" >Y</text>
<text x="225.3" y="504.0" font-size="8.6" fill="#555" text-anchor="start" font-weight="normal" >42%</text>
<circle cx="335" cy="478" r="6.8" fill="#6ea54c"/>
<text x="335.0" y="481.3" font-size="8.5" fill="#fff" text-anchor="middle" font-weight="normal" >Y</text>
<text x="331.0" y="494.0" font-size="8.6" fill="#555" text-anchor="start" font-weight="normal" >40%</text>
<circle cx="443.3" cy="516.3" r="6.8" fill="#6ea54c"/>
<text x="443.3" y="519.6" font-size="8.5" fill="#fff" text-anchor="middle" font-weight="normal" >Y</text>
<text x="439.3" y="532.3" font-size="8.6" fill="#555" text-anchor="start" font-weight="normal" >38%</text>
<circle cx="230" cy="640" r="6.8" fill="#6ea54c"/>
<text x="230.0" y="643.3" font-size="8.5" fill="#fff" text-anchor="middle" font-weight="normal" >Y</text>
<text x="226.0" y="656.0" font-size="8.6" fill="#555" text-anchor="start" font-weight="normal" >42%</text>
<circle cx="326" cy="640" r="6.8" fill="#6ea54c"/>
<text x="326.0" y="643.3" font-size="8.5" fill="#fff" text-anchor="middle" font-weight="normal" >Y</text>
<text x="322.0" y="656.0" font-size="8.6" fill="#555" text-anchor="start" font-weight="normal" >40%</text>
<circle cx="438" cy="646.8" r="6.8" fill="#6ea54c"/>
<text x="438.0" y="650.1" font-size="8.5" fill="#fff" text-anchor="middle" font-weight="normal" >Y</text>
<text x="434.0" y="662.8" font-size="8.6" fill="#555" text-anchor="start" font-weight="normal" >38%</text>
<circle cx="226" cy="779.7" r="6.8" fill="#6ea54c"/>
<text x="226.0" y="783.0" font-size="8.5" fill="#fff" text-anchor="middle" font-weight="normal" >Y</text>
<text x="222.0" y="795.7" font-size="8.6" fill="#555" text-anchor="start" font-weight="normal" >42%</text>
<circle cx="325.7" cy="779.7" r="6.8" fill="#6ea54c"/>
<text x="325.7" y="783.0" font-size="8.5" fill="#fff" text-anchor="middle" font-weight="normal" >Y</text>
<text x="321.7" y="795.7" font-size="8.6" fill="#555" text-anchor="start" font-weight="normal" >40%</text>
<circle cx="449.3" cy="736.3" r="6.8" fill="#6ea54c"/>
<text x="449.3" y="739.6" font-size="8.5" fill="#fff" text-anchor="middle" font-weight="normal" >Y</text>
<text x="445.3" y="752.3" font-size="8.6" fill="#555" text-anchor="start" font-weight="normal" >38%</text>
<circle cx="98.4" cy="366.3" r="6.8" fill="#6ea54c"/>
<text x="98.4" y="369.6" font-size="8.5" fill="#fff" text-anchor="middle" font-weight="normal" >Y</text>
<text x="94.4" y="382.3" font-size="8.6" fill="#555" text-anchor="start" font-weight="normal" >20%</text>
<circle cx="184.5" cy="373" r="6.8" fill="#d8603f"/>
<text x="184.5" y="376.3" font-size="8.5" fill="#fff" text-anchor="middle" font-weight="normal" >N</text>
<text x="195.0" y="376.5" font-size="8.6" fill="#555" text-anchor="start" font-weight="normal" >58%</text>
<circle cx="290" cy="372.3" r="6.8" fill="#d8603f"/>
<text x="290.0" y="375.6" font-size="8.5" fill="#fff" text-anchor="middle" font-weight="normal" >N</text>
<text x="300.5" y="375.8" font-size="8.6" fill="#555" text-anchor="start" font-weight="normal" >60%</text>
<circle cx="408.3" cy="353.7" r="6.8" fill="#d8603f"/>
<text x="408.3" y="357.0" font-size="8.5" fill="#fff" text-anchor="middle" font-weight="normal" >N</text>
<text x="418.8" y="357.2" font-size="8.6" fill="#555" text-anchor="start" font-weight="normal" >62%</text>
<circle cx="195" cy="514.7" r="6.8" fill="#d8603f"/>
<text x="195.0" y="518.0" font-size="8.5" fill="#fff" text-anchor="middle" font-weight="normal" >N</text>
<text x="205.5" y="518.2" font-size="8.6" fill="#555" text-anchor="start" font-weight="normal" >58%</text>
<circle cx="299.3" cy="504" r="6.8" fill="#d8603f"/>
<text x="299.3" y="507.3" font-size="8.5" fill="#fff" text-anchor="middle" font-weight="normal" >N</text>
<text x="309.8" y="507.5" font-size="8.6" fill="#555" text-anchor="start" font-weight="normal" >60%</text>
<circle cx="408.3" cy="542" r="6.8" fill="#d8603f"/>
<text x="408.3" y="545.3" font-size="8.5" fill="#fff" text-anchor="middle" font-weight="normal" >N</text>
<text x="418.8" y="545.5" font-size="8.6" fill="#555" text-anchor="start" font-weight="normal" >62%</text>
<circle cx="195" cy="665.3" r="6.8" fill="#d8603f"/>
<text x="195.0" y="668.6" font-size="8.5" fill="#fff" text-anchor="middle" font-weight="normal" >N</text>
<text x="205.5" y="668.8" font-size="8.6" fill="#555" text-anchor="start" font-weight="normal" >58%</text>
<circle cx="290" cy="665.3" r="6.8" fill="#d8603f"/>
<text x="290.0" y="668.6" font-size="8.5" fill="#fff" text-anchor="middle" font-weight="normal" >N</text>
<text x="300.5" y="668.8" font-size="8.6" fill="#555" text-anchor="start" font-weight="normal" >60%</text>
<circle cx="402.8" cy="672" r="6.8" fill="#d8603f"/>
<text x="402.8" y="675.3" font-size="8.5" fill="#fff" text-anchor="middle" font-weight="normal" >N</text>
<text x="413.3" y="675.5" font-size="8.6" fill="#555" text-anchor="start" font-weight="normal" >62%</text>
<circle cx="190.7" cy="804.7" r="6.8" fill="#d8603f"/>
<text x="190.7" y="808.0" font-size="8.5" fill="#fff" text-anchor="middle" font-weight="normal" >N</text>
<text x="201.2" y="808.2" font-size="8.6" fill="#555" text-anchor="start" font-weight="normal" >58%</text>
<circle cx="290" cy="804.7" r="6.8" fill="#d8603f"/>
<text x="290.0" y="808.0" font-size="8.5" fill="#fff" text-anchor="middle" font-weight="normal" >N</text>
<text x="300.5" y="808.2" font-size="8.6" fill="#555" text-anchor="start" font-weight="normal" >60%</text>
<circle cx="413.3" cy="761.3" r="6.8" fill="#d8603f"/>
<text x="413.3" y="764.6" font-size="8.5" fill="#fff" text-anchor="middle" font-weight="normal" >N</text>
<text x="423.8" y="764.8" font-size="8.6" fill="#555" text-anchor="start" font-weight="normal" >62%</text>
<circle cx="43.3" cy="438.7" r="6.8" fill="#d8603f"/>
<text x="43.3" y="442.0" font-size="8.5" fill="#fff" text-anchor="middle" font-weight="normal" >N</text>
<text x="53.8" y="442.2" font-size="8.6" fill="#555" text-anchor="start" font-weight="normal" >80%</text>
<circle cx="55.1" cy="655.4" r="6.8" fill="#d8603f"/>
<text x="55.1" y="658.7" font-size="8.5" fill="#fff" text-anchor="middle" font-weight="normal" >N</text>
<text x="65.6" y="658.9" font-size="8.6" fill="#555" text-anchor="start" font-weight="normal" >20%</text>
<circle cx="185" cy="401.2" r="1.8" fill="#444"/>
<circle cx="197.3" cy="406.2" r="1.5" fill="#444"/>
<circle cx="185" cy="419" r="15.8" fill="#fff" stroke="#444" stroke-width="2.1"/>
<circle cx="185" cy="419" r="12.7" fill="#575757"/>
<text x="185.0" y="418.7" font-size="9.6" fill="#f0f0f0" text-anchor="middle" font-weight="normal" >01</text>
<text x="185.8" y="424.4" font-size="5.6" fill="#f0f0f0" text-anchor="middle" font-weight="bold" >DAY</text>
<circle cx="286" cy="393.5" r="1.8" fill="#444"/>
<circle cx="298.3" cy="398.5" r="1.5" fill="#444"/>
<circle cx="286" cy="411.3" r="15.8" fill="#fff" stroke="#444" stroke-width="2.1"/>
<circle cx="286" cy="411.3" r="12.7" fill="#575757"/>
<text x="286.0" y="411.0" font-size="9.6" fill="#f0f0f0" text-anchor="middle" font-weight="normal" >01</text>
<text x="286.8" y="416.7" font-size="5.6" fill="#f0f0f0" text-anchor="middle" font-weight="bold" >DAY</text>
<circle cx="185" cy="546.2" r="1.8" fill="#444"/>
<circle cx="197.3" cy="551.2" r="1.5" fill="#444"/>
<circle cx="185" cy="564" r="15.8" fill="#fff" stroke="#444" stroke-width="2.1"/>
<circle cx="185" cy="564" r="12.7" fill="#575757"/>
<text x="185.0" y="563.7" font-size="9.6" fill="#f0f0f0" text-anchor="middle" font-weight="normal" >01</text>
<text x="185.8" y="569.4" font-size="5.6" fill="#f0f0f0" text-anchor="middle" font-weight="bold" >DAY</text>
<circle cx="286" cy="539.5" r="1.8" fill="#444"/>
<circle cx="298.3" cy="544.5" r="1.5" fill="#444"/>
<circle cx="286" cy="557.3" r="15.8" fill="#fff" stroke="#444" stroke-width="2.1"/>
<circle cx="286" cy="557.3" r="12.7" fill="#575757"/>
<text x="286.0" y="557.0" font-size="9.6" fill="#f0f0f0" text-anchor="middle" font-weight="normal" >01</text>
<text x="286.8" y="562.7" font-size="5.6" fill="#f0f0f0" text-anchor="middle" font-weight="bold" >DAY</text>
<circle cx="177.3" cy="690.2" r="1.8" fill="#444"/>
<circle cx="189.60000000000002" cy="695.2" r="1.5" fill="#444"/>
<circle cx="177.3" cy="708" r="15.8" fill="#fff" stroke="#444" stroke-width="2.1"/>
<circle cx="177.3" cy="708" r="12.7" fill="#575757"/>
<text x="177.3" y="707.7" font-size="9.6" fill="#f0f0f0" text-anchor="middle" font-weight="normal" >01</text>
<text x="178.1" y="713.4" font-size="5.6" fill="#f0f0f0" text-anchor="middle" font-weight="bold" >DAY</text>
<circle cx="270.7" cy="684.5" r="1.8" fill="#444"/>
<circle cx="283.0" cy="689.5" r="1.5" fill="#444"/>
<circle cx="270.7" cy="702.3" r="15.8" fill="#fff" stroke="#444" stroke-width="2.1"/>
<circle cx="270.7" cy="702.3" r="12.7" fill="#575757"/>
<text x="270.7" y="702.0" font-size="9.6" fill="#f0f0f0" text-anchor="middle" font-weight="normal" >01</text>
<text x="271.5" y="707.7" font-size="5.6" fill="#f0f0f0" text-anchor="middle" font-weight="bold" >DAY</text>
<circle cx="232.7" cy="825.2" r="1.8" fill="#444"/>
<circle cx="245.0" cy="830.2" r="1.5" fill="#444"/>
<circle cx="232.7" cy="843" r="15.8" fill="#fff" stroke="#444" stroke-width="2.1"/>
<circle cx="232.7" cy="843" r="12.7" fill="#575757"/>
<text x="232.7" y="842.7" font-size="9.6" fill="#f0f0f0" text-anchor="middle" font-weight="normal" >01</text>
<text x="233.5" y="848.4" font-size="5.6" fill="#f0f0f0" text-anchor="middle" font-weight="bold" >DAY</text>
<circle cx="320" cy="829.2" r="1.8" fill="#444"/>
<circle cx="332.3" cy="834.2" r="1.5" fill="#444"/>
<circle cx="320" cy="847" r="15.8" fill="#fff" stroke="#444" stroke-width="2.1"/>
<circle cx="320" cy="847" r="12.7" fill="#575757"/>
<text x="320.0" y="846.7" font-size="9.6" fill="#f0f0f0" text-anchor="middle" font-weight="normal" >01</text>
<text x="320.8" y="852.4" font-size="5.6" fill="#f0f0f0" text-anchor="middle" font-weight="bold" >DAY</text>
<circle cx="110" cy="534.1" r="6.8" fill="#6ea54c"/>
<text x="110.0" y="537.4" font-size="8.5" fill="#fff" text-anchor="middle" font-weight="normal" >1</text>
<text x="106.0" y="548.6" font-size="8.6" fill="#555" text-anchor="start" font-weight="normal" >23%</text>
<circle cx="110" cy="566.7" r="6.8" fill="#6ea54c"/>
<text x="110.0" y="570.0" font-size="8.5" fill="#fff" text-anchor="middle" font-weight="normal" >2</text>
<text x="106.0" y="581.2" font-size="8.6" fill="#555" text-anchor="start" font-weight="normal" >21%</text>
<circle cx="110" cy="600" r="6.8" fill="#6ea54c"/>
<text x="110.0" y="603.3" font-size="8.5" fill="#fff" text-anchor="middle" font-weight="normal" >3</text>
<text x="106.0" y="614.5" font-size="8.6" fill="#555" text-anchor="start" font-weight="normal" >19%</text>
<circle cx="110" cy="632.3" r="6.8" fill="#6ea54c"/>
<text x="110.0" y="635.6" font-size="8.5" fill="#fff" text-anchor="middle" font-weight="normal" >4</text>
<text x="106.0" y="646.8" font-size="8.6" fill="#555" text-anchor="start" font-weight="normal" >16%</text>
<rect x="499.4" y="190.6" width="95.60000000000002" height="130.1" rx="1.5" fill="#fff" stroke="#d6d6d6" stroke-width="1"/>
<rect x="499.4" y="190.6" width="95.60000000000002" height="10.3" fill="#cdcdcd"/>
<circle cx="504.4" cy="195.79999999999998" r="1.3" fill="#d9534f"/>
<circle cx="509.4" cy="195.79999999999998" r="1.3" fill="#e8b84a"/>
<circle cx="514.4" cy="195.79999999999998" r="1.3" fill="#5cb85c"/>
<text x="551.2" y="198.6" font-size="7.5" fill="#555" text-anchor="middle" font-weight="normal" >Sales Page</text>
<rect x="499.4" y="308.4" width="95.60000000000002" height="12.3" fill="#555555"/>
<text x="547.2" y="317.7" font-size="8.8" fill="#fff" text-anchor="middle" font-weight="bold" textLength="46" lengthAdjust="spacingAndGlyphs">SALES PAGE</text>
<rect x="504.5" y="209.2" width="85.40000000000002" height="51.8" fill="#7b97c3"/>
<circle cx="546.3" cy="234.89999999999998" r="12.2" fill="none" stroke="#fff" stroke-width="2.2"/>
<polygon points="542.3,227.89999999999998 553.3,234.89999999999998 542.3,241.89999999999998" fill="#fff"/>
<rect x="504.5" y="268.9" width="17.2" height="17" fill="#7b97c3"/>
<rect x="527.2" y="268.9" width="17.2" height="17" fill="#7b97c3"/>
<rect x="550.0" y="268.9" width="17.2" height="17" fill="#7b97c3"/>
<rect x="572.8" y="268.9" width="17.2" height="17" fill="#7b97c3"/>
<rect x="504.5" y="292.8" width="85.40000000000002" height="9.5" rx="2" fill="#4c6ca6"/>
<text x="547.2" y="299.9" font-size="5.2" fill="#fff" text-anchor="middle" font-weight="bold" textLength="43" lengthAdjust="spacing">ADD TO CART</text>
<rect x="503.9" y="376.3" width="96.30000000000007" height="129.7" rx="1.5" fill="#fff" stroke="#d6d6d6" stroke-width="1"/>
<rect x="503.9" y="376.3" width="96.30000000000007" height="10.3" fill="#cdcdcd"/>
<circle cx="508.9" cy="381.5" r="1.3" fill="#d9534f"/>
<circle cx="513.9" cy="381.5" r="1.3" fill="#e8b84a"/>
<circle cx="518.9" cy="381.5" r="1.3" fill="#5cb85c"/>
<text x="556.0" y="384.3" font-size="7.5" fill="#555" text-anchor="middle" font-weight="normal" >Sales Page</text>
<rect x="503.9" y="493.7" width="96.30000000000007" height="12.3" fill="#555555"/>
<text x="552.0" y="503.0" font-size="8.8" fill="#fff" text-anchor="middle" font-weight="bold" textLength="46" lengthAdjust="spacingAndGlyphs">SALES PAGE</text>
<rect x="509.0" y="394.90000000000003" width="86.10000000000007" height="51.8" fill="#7b97c3"/>
<circle cx="550.8" cy="420.6" r="12.2" fill="none" stroke="#fff" stroke-width="2.2"/>
<polygon points="546.8,413.6 557.8,420.6 546.8,427.6" fill="#fff"/>
<rect x="509.0" y="454.6" width="17.3" height="17" fill="#7b97c3"/>
<rect x="531.9" y="454.6" width="17.3" height="17" fill="#7b97c3"/>
<rect x="554.9" y="454.6" width="17.3" height="17" fill="#7b97c3"/>
<rect x="577.8" y="454.6" width="17.3" height="17" fill="#7b97c3"/>
<rect x="509.0" y="478.5" width="86.10000000000007" height="9.5" rx="2" fill="#4c6ca6"/>
<text x="552.0" y="485.6" font-size="5.2" fill="#fff" text-anchor="middle" font-weight="bold" textLength="43" lengthAdjust="spacing">ADD TO CART</text>
<rect x="503.9" y="566.1" width="96.30000000000007" height="130.29999999999995" rx="1.5" fill="#fff" stroke="#d6d6d6" stroke-width="1"/>
<rect x="503.9" y="566.1" width="96.30000000000007" height="10.3" fill="#cdcdcd"/>
<circle cx="508.9" cy="571.3000000000001" r="1.3" fill="#d9534f"/>
<circle cx="513.9" cy="571.3000000000001" r="1.3" fill="#e8b84a"/>
<circle cx="518.9" cy="571.3000000000001" r="1.3" fill="#5cb85c"/>
<text x="556.0" y="574.1" font-size="7.5" fill="#555" text-anchor="middle" font-weight="normal" >Sales Page</text>
<rect x="503.9" y="684.1" width="96.30000000000007" height="12.3" fill="#555555"/>
<text x="552.0" y="693.4" font-size="8.8" fill="#fff" text-anchor="middle" font-weight="bold" textLength="46" lengthAdjust="spacingAndGlyphs">SALES PAGE</text>
<rect x="509.0" y="584.7" width="86.10000000000007" height="51.8" fill="#7b97c3"/>
<circle cx="550.8" cy="610.4" r="12.2" fill="none" stroke="#fff" stroke-width="2.2"/>
<polygon points="546.8,603.4 557.8,610.4 546.8,617.4" fill="#fff"/>
<rect x="509.0" y="644.4" width="17.3" height="17" fill="#7b97c3"/>
<rect x="531.9" y="644.4" width="17.3" height="17" fill="#7b97c3"/>
<rect x="554.9" y="644.4" width="17.3" height="17" fill="#7b97c3"/>
<rect x="577.8" y="644.4" width="17.3" height="17" fill="#7b97c3"/>
<rect x="509.0" y="668.3000000000001" width="86.10000000000007" height="9.5" rx="2" fill="#4c6ca6"/>
<text x="552.0" y="675.4" font-size="5.2" fill="#fff" text-anchor="middle" font-weight="bold" textLength="43" lengthAdjust="spacing">ADD TO CART</text>
<rect x="498.7" y="747.8" width="96.00000000000006" height="129.30000000000007" rx="1.5" fill="#fff" stroke="#d6d6d6" stroke-width="1"/>
<rect x="498.7" y="747.8" width="96.00000000000006" height="10.3" fill="#cdcdcd"/>
<circle cx="503.7" cy="753.0" r="1.3" fill="#d9534f"/>
<circle cx="508.7" cy="753.0" r="1.3" fill="#e8b84a"/>
<circle cx="513.7" cy="753.0" r="1.3" fill="#5cb85c"/>
<text x="550.7" y="755.8" font-size="7.5" fill="#555" text-anchor="middle" font-weight="normal" >Sales Page</text>
<rect x="498.7" y="864.8000000000001" width="96.00000000000006" height="12.3" fill="#555555"/>
<text x="546.7" y="874.1" font-size="8.8" fill="#fff" text-anchor="middle" font-weight="bold" textLength="46" lengthAdjust="spacingAndGlyphs">SALES PAGE</text>
<rect x="503.8" y="766.4" width="85.80000000000005" height="51.8" fill="#7b97c3"/>
<circle cx="545.6" cy="792.0999999999999" r="12.2" fill="none" stroke="#fff" stroke-width="2.2"/>
<polygon points="541.6,785.0999999999999 552.6,792.0999999999999 541.6,799.0999999999999" fill="#fff"/>
<rect x="503.8" y="826.0999999999999" width="17.3" height="17" fill="#7b97c3"/>
<rect x="526.6" y="826.0999999999999" width="17.3" height="17" fill="#7b97c3"/>
<rect x="549.5" y="826.0999999999999" width="17.3" height="17" fill="#7b97c3"/>
<rect x="572.4" y="826.0999999999999" width="17.3" height="17" fill="#7b97c3"/>
<rect x="503.8" y="850.0" width="85.80000000000005" height="9.5" rx="2" fill="#4c6ca6"/>
<text x="546.7" y="857.1" font-size="5.2" fill="#fff" text-anchor="middle" font-weight="bold" textLength="43" lengthAdjust="spacing">ADD TO CART</text>
<rect x="636.7" y="190.6" width="95.19999999999993" height="130.1" rx="1.5" fill="#fff" stroke="#d6d6d6" stroke-width="1"/>
<rect x="636.7" y="190.6" width="95.19999999999993" height="10.3" fill="#cdcdcd"/>
<circle cx="641.7" cy="195.79999999999998" r="1.3" fill="#d9534f"/>
<circle cx="646.7" cy="195.79999999999998" r="1.3" fill="#e8b84a"/>
<circle cx="651.7" cy="195.79999999999998" r="1.3" fill="#5cb85c"/>
<text x="688.3" y="198.6" font-size="7.5" fill="#555" text-anchor="middle" font-weight="normal" >Order Form</text>
<rect x="636.7" y="308.4" width="95.19999999999993" height="12.3" fill="#555555"/>
<text x="684.3" y="317.7" font-size="8.8" fill="#fff" text-anchor="middle" font-weight="bold" textLength="51.5" lengthAdjust="spacingAndGlyphs">ORDER FORM</text>
<rect x="642.0" y="209.0" width="18.4" height="12" rx="1" fill="#4c6ca6"/>
<rect x="664.1" y="209.0" width="18.4" height="12" rx="1" fill="#4c6ca6"/>
<rect x="686.2" y="209.0" width="18.4" height="12" rx="1" fill="#4c6ca6"/>
<rect x="708.3" y="209.0" width="18.4" height="12" rx="1" fill="#4c6ca6"/>
<text x="651.2" y="218.1" font-size="7" fill="#fff" text-anchor="middle" font-weight="bold" >VISA</text>
<circle cx="670.8" cy="215.0" r="3.6" fill="none" stroke="#fff" stroke-width="1.1"/>
<circle cx="675.8" cy="215.0" r="3.6" fill="none" stroke="#fff" stroke-width="1.1"/>
<rect x="688.2" y="214.0" width="14.4" height="2" fill="#dfe6f2"/>
<path d="M696.6,221.0 L704.6,217.0 L704.6,221.0 Z" fill="#fff"/>
<rect x="710.3" y="211.6" width="14.4" height="7" fill="#8aa3cf"/>
<rect x="642.0" y="225.5" width="84.7" height="10.4" fill="#fff" stroke="#c9c9c9" stroke-width="1"/>
<rect x="642.0" y="238.9" width="41.0" height="10.1" fill="#fff" stroke="#c9c9c9" stroke-width="1"/>
<rect x="685.7" y="238.9" width="41.0" height="10.1" fill="#fff" stroke="#c9c9c9" stroke-width="1"/>
<rect x="642.0" y="251.9" width="84.7" height="9.9" fill="#fff" stroke="#c9c9c9" stroke-width="1"/>
<rect x="642.0" y="264.7" width="41.0" height="10.2" fill="#fff" stroke="#c9c9c9" stroke-width="1"/>
<rect x="685.7" y="264.7" width="41.0" height="10.2" fill="#fff" stroke="#c9c9c9" stroke-width="1"/>
<rect x="642.0" y="277.5" width="19.1" height="10.4" fill="#fff" stroke="#c9c9c9" stroke-width="1"/>
<rect x="663.9" y="277.5" width="19.1" height="10.4" fill="#fff" stroke="#c9c9c9" stroke-width="1"/>
<rect x="685.7" y="277.5" width="19.1" height="10.4" fill="#fff" stroke="#c9c9c9" stroke-width="1"/>
<rect x="707.5" y="277.5" width="19.1" height="10.4" fill="#fff" stroke="#c9c9c9" stroke-width="1"/>
<rect x="642.0" y="292.7" width="84.69999999999993" height="9.9" rx="2" fill="#4c6ca6"/>
<text x="684.3" y="299.9" font-size="5.2" fill="#fff" text-anchor="middle" font-weight="bold" textLength="31.5" lengthAdjust="spacing">BUY NOW</text>
<rect x="645.3" y="376.3" width="95.30000000000007" height="129.7" rx="1.5" fill="#fff" stroke="#d6d6d6" stroke-width="1"/>
<rect x="645.3" y="376.3" width="95.30000000000007" height="10.3" fill="#cdcdcd"/>
<circle cx="650.3" cy="381.5" r="1.3" fill="#d9534f"/>
<circle cx="655.3" cy="381.5" r="1.3" fill="#e8b84a"/>
<circle cx="660.3" cy="381.5" r="1.3" fill="#5cb85c"/>
<text x="697.0" y="384.3" font-size="7.5" fill="#555" text-anchor="middle" font-weight="normal" >Order Form</text>
<rect x="645.3" y="493.7" width="95.30000000000007" height="12.3" fill="#555555"/>
<text x="693.0" y="503.0" font-size="8.8" fill="#fff" text-anchor="middle" font-weight="bold" textLength="51.5" lengthAdjust="spacingAndGlyphs">ORDER FORM</text>
<rect x="650.6" y="394.7" width="18.4" height="12" rx="1" fill="#4c6ca6"/>
<rect x="672.7" y="394.7" width="18.4" height="12" rx="1" fill="#4c6ca6"/>
<rect x="694.8" y="394.7" width="18.4" height="12" rx="1" fill="#4c6ca6"/>
<rect x="717.0" y="394.7" width="18.4" height="12" rx="1" fill="#4c6ca6"/>
<text x="659.8" y="403.8" font-size="7" fill="#fff" text-anchor="middle" font-weight="bold" >VISA</text>
<circle cx="679.4" cy="400.7" r="3.6" fill="none" stroke="#fff" stroke-width="1.1"/>
<circle cx="684.4" cy="400.7" r="3.6" fill="none" stroke="#fff" stroke-width="1.1"/>
<rect x="696.8" y="399.7" width="14.4" height="2" fill="#dfe6f2"/>
<path d="M705.3,406.7 L713.3,402.7 L713.3,406.7 Z" fill="#fff"/>
<rect x="719.0" y="397.3" width="14.4" height="7" fill="#8aa3cf"/>
<rect x="650.6" y="411.2" width="84.8" height="10.4" fill="#fff" stroke="#c9c9c9" stroke-width="1"/>
<rect x="650.6" y="424.6" width="41.1" height="10.1" fill="#fff" stroke="#c9c9c9" stroke-width="1"/>
<rect x="694.4" y="424.6" width="41.0" height="10.1" fill="#fff" stroke="#c9c9c9" stroke-width="1"/>
<rect x="650.6" y="437.6" width="84.8" height="9.9" fill="#fff" stroke="#c9c9c9" stroke-width="1"/>
<rect x="650.6" y="450.4" width="41.1" height="10.2" fill="#fff" stroke="#c9c9c9" stroke-width="1"/>
<rect x="694.4" y="450.4" width="41.0" height="10.2" fill="#fff" stroke="#c9c9c9" stroke-width="1"/>
<rect x="650.6" y="463.2" width="19.2" height="10.4" fill="#fff" stroke="#c9c9c9" stroke-width="1"/>
<rect x="672.5" y="463.2" width="19.2" height="10.4" fill="#fff" stroke="#c9c9c9" stroke-width="1"/>
<rect x="694.3" y="463.2" width="19.2" height="10.4" fill="#fff" stroke="#c9c9c9" stroke-width="1"/>
<rect x="716.2" y="463.2" width="19.2" height="10.4" fill="#fff" stroke="#c9c9c9" stroke-width="1"/>
<rect x="650.5999999999999" y="478.4" width="84.80000000000007" height="9.9" rx="2" fill="#4c6ca6"/>
<text x="693.0" y="485.6" font-size="5.2" fill="#fff" text-anchor="middle" font-weight="bold" textLength="31.5" lengthAdjust="spacing">BUY NOW</text>
<rect x="636.6" y="559.5" width="95.29999999999995" height="130.0" rx="1.5" fill="#fff" stroke="#d6d6d6" stroke-width="1"/>
<rect x="636.6" y="559.5" width="95.29999999999995" height="10.3" fill="#cdcdcd"/>
<circle cx="641.6" cy="564.7" r="1.3" fill="#d9534f"/>
<circle cx="646.6" cy="564.7" r="1.3" fill="#e8b84a"/>
<circle cx="651.6" cy="564.7" r="1.3" fill="#5cb85c"/>
<text x="688.2" y="567.5" font-size="7.5" fill="#555" text-anchor="middle" font-weight="normal" >Order Form</text>
<rect x="636.6" y="677.2" width="95.29999999999995" height="12.3" fill="#555555"/>
<text x="684.2" y="686.5" font-size="8.8" fill="#fff" text-anchor="middle" font-weight="bold" textLength="51.5" lengthAdjust="spacingAndGlyphs">ORDER FORM</text>
<rect x="641.9" y="577.9" width="18.4" height="12" rx="1" fill="#4c6ca6"/>
<rect x="664.0" y="577.9" width="18.4" height="12" rx="1" fill="#4c6ca6"/>
<rect x="686.1" y="577.9" width="18.4" height="12" rx="1" fill="#4c6ca6"/>
<rect x="708.3" y="577.9" width="18.4" height="12" rx="1" fill="#4c6ca6"/>
<text x="651.1" y="587.0" font-size="7" fill="#fff" text-anchor="middle" font-weight="bold" >VISA</text>
<circle cx="670.7" cy="583.9" r="3.6" fill="none" stroke="#fff" stroke-width="1.1"/>
<circle cx="675.7" cy="583.9" r="3.6" fill="none" stroke="#fff" stroke-width="1.1"/>
<rect x="688.1" y="582.9" width="14.4" height="2" fill="#dfe6f2"/>
<path d="M696.6,589.9 L704.6,585.9 L704.6,589.9 Z" fill="#fff"/>
<rect x="710.3" y="580.5" width="14.4" height="7" fill="#8aa3cf"/>
<rect x="641.9" y="594.4" width="84.8" height="10.4" fill="#fff" stroke="#c9c9c9" stroke-width="1"/>
<rect x="641.9" y="607.8" width="41.0" height="10.1" fill="#fff" stroke="#c9c9c9" stroke-width="1"/>
<rect x="685.6" y="607.8" width="41.0" height="10.1" fill="#fff" stroke="#c9c9c9" stroke-width="1"/>
<rect x="641.9" y="620.8" width="84.8" height="9.9" fill="#fff" stroke="#c9c9c9" stroke-width="1"/>
<rect x="641.9" y="633.6" width="41.0" height="10.2" fill="#fff" stroke="#c9c9c9" stroke-width="1"/>
<rect x="685.6" y="633.6" width="41.0" height="10.2" fill="#fff" stroke="#c9c9c9" stroke-width="1"/>
<rect x="641.9" y="646.4" width="19.2" height="10.4" fill="#fff" stroke="#c9c9c9" stroke-width="1"/>
<rect x="663.8" y="646.4" width="19.2" height="10.4" fill="#fff" stroke="#c9c9c9" stroke-width="1"/>
<rect x="685.6" y="646.4" width="19.2" height="10.4" fill="#fff" stroke="#c9c9c9" stroke-width="1"/>
<rect x="707.5" y="646.4" width="19.2" height="10.4" fill="#fff" stroke="#c9c9c9" stroke-width="1"/>
<rect x="641.9" y="661.6" width="84.79999999999995" height="9.9" rx="2" fill="#4c6ca6"/>
<text x="684.2" y="668.8" font-size="5.2" fill="#fff" text-anchor="middle" font-weight="bold" textLength="31.5" lengthAdjust="spacing">BUY NOW</text>
<rect x="636.6" y="740.2" width="95.29999999999995" height="130.0" rx="1.5" fill="#fff" stroke="#d6d6d6" stroke-width="1"/>
<rect x="636.6" y="740.2" width="95.29999999999995" height="10.3" fill="#cdcdcd"/>
<circle cx="641.6" cy="745.4000000000001" r="1.3" fill="#d9534f"/>
<circle cx="646.6" cy="745.4000000000001" r="1.3" fill="#e8b84a"/>
<circle cx="651.6" cy="745.4000000000001" r="1.3" fill="#5cb85c"/>
<text x="688.2" y="748.2" font-size="7.5" fill="#555" text-anchor="middle" font-weight="normal" >Order Form</text>
<rect x="636.6" y="857.9000000000001" width="95.29999999999995" height="12.3" fill="#555555"/>
<text x="684.2" y="867.2" font-size="8.8" fill="#fff" text-anchor="middle" font-weight="bold" textLength="51.5" lengthAdjust="spacingAndGlyphs">ORDER FORM</text>
<rect x="641.9" y="758.6" width="18.4" height="12" rx="1" fill="#4c6ca6"/>
<rect x="664.0" y="758.6" width="18.4" height="12" rx="1" fill="#4c6ca6"/>
<rect x="686.1" y="758.6" width="18.4" height="12" rx="1" fill="#4c6ca6"/>
<rect x="708.3" y="758.6" width="18.4" height="12" rx="1" fill="#4c6ca6"/>
<text x="651.1" y="767.7" font-size="7" fill="#fff" text-anchor="middle" font-weight="bold" >VISA</text>
<circle cx="670.7" cy="764.6" r="3.6" fill="none" stroke="#fff" stroke-width="1.1"/>
<circle cx="675.7" cy="764.6" r="3.6" fill="none" stroke="#fff" stroke-width="1.1"/>
<rect x="688.1" y="763.6" width="14.4" height="2" fill="#dfe6f2"/>
<path d="M696.6,770.6 L704.6,766.6 L704.6,770.6 Z" fill="#fff"/>
<rect x="710.3" y="761.2" width="14.4" height="7" fill="#8aa3cf"/>
<rect x="641.9" y="775.1" width="84.8" height="10.4" fill="#fff" stroke="#c9c9c9" stroke-width="1"/>
<rect x="641.9" y="788.5" width="41.0" height="10.1" fill="#fff" stroke="#c9c9c9" stroke-width="1"/>
<rect x="685.6" y="788.5" width="41.0" height="10.1" fill="#fff" stroke="#c9c9c9" stroke-width="1"/>
<rect x="641.9" y="801.5" width="84.8" height="9.9" fill="#fff" stroke="#c9c9c9" stroke-width="1"/>
<rect x="641.9" y="814.3" width="41.0" height="10.2" fill="#fff" stroke="#c9c9c9" stroke-width="1"/>
<rect x="685.6" y="814.3" width="41.0" height="10.2" fill="#fff" stroke="#c9c9c9" stroke-width="1"/>
<rect x="641.9" y="827.1" width="19.2" height="10.4" fill="#fff" stroke="#c9c9c9" stroke-width="1"/>
<rect x="663.8" y="827.1" width="19.2" height="10.4" fill="#fff" stroke="#c9c9c9" stroke-width="1"/>
<rect x="685.6" y="827.1" width="19.2" height="10.4" fill="#fff" stroke="#c9c9c9" stroke-width="1"/>
<rect x="707.5" y="827.1" width="19.2" height="10.4" fill="#fff" stroke="#c9c9c9" stroke-width="1"/>
<rect x="641.9" y="842.3000000000001" width="84.79999999999995" height="9.9" rx="2" fill="#4c6ca6"/>
<text x="684.2" y="849.5" font-size="5.2" fill="#fff" text-anchor="middle" font-weight="bold" textLength="31.5" lengthAdjust="spacing">BUY NOW</text>
<circle cx="546.6" cy="327.5" r="6.8" fill="#d8603f"/>
<text x="546.6" y="330.8" font-size="8.5" fill="#fff" text-anchor="middle" font-weight="normal" >N</text>
<text x="557.1" y="331.0" font-size="8.6" fill="#555" text-anchor="start" font-weight="normal" >97%</text>
<circle cx="551.7" cy="514" r="6.8" fill="#d8603f"/>
<text x="551.7" y="517.3" font-size="8.5" fill="#fff" text-anchor="middle" font-weight="normal" >N</text>
<text x="562.2" y="517.5" font-size="8.6" fill="#555" text-anchor="start" font-weight="normal" >97%</text>
<circle cx="551.7" cy="703.4" r="6.8" fill="#d8603f"/>
<text x="551.7" y="706.7" font-size="8.5" fill="#fff" text-anchor="middle" font-weight="normal" >N</text>
<text x="562.2" y="706.9" font-size="8.6" fill="#555" text-anchor="start" font-weight="normal" >97%</text>
<circle cx="546.5" cy="884.7" r="6.8" fill="#d8603f"/>
<text x="546.5" y="888.0" font-size="8.5" fill="#fff" text-anchor="middle" font-weight="normal" >N</text>
<text x="557.0" y="888.2" font-size="8.6" fill="#555" text-anchor="start" font-weight="normal" >97%</text>
<circle cx="684" cy="327.5" r="6.8" fill="#d8603f"/>
<text x="684.0" y="330.8" font-size="8.5" fill="#fff" text-anchor="middle" font-weight="normal" >N</text>
<text x="694.5" y="331.0" font-size="8.6" fill="#555" text-anchor="start" font-weight="normal" >60%</text>
<circle cx="692.8" cy="514" r="6.8" fill="#d8603f"/>
<text x="692.8" y="517.3" font-size="8.5" fill="#fff" text-anchor="middle" font-weight="normal" >N</text>
<text x="703.3" y="517.5" font-size="8.6" fill="#555" text-anchor="start" font-weight="normal" >60%</text>
<circle cx="684.8" cy="696.4" r="6.8" fill="#d8603f"/>
<text x="684.8" y="699.7" font-size="8.5" fill="#fff" text-anchor="middle" font-weight="normal" >N</text>
<text x="695.3" y="699.9" font-size="8.6" fill="#555" text-anchor="start" font-weight="normal" >60%</text>
<circle cx="684.8" cy="877.1" r="6.8" fill="#d8603f"/>
<text x="684.8" y="880.4" font-size="8.5" fill="#fff" text-anchor="middle" font-weight="normal" >N</text>
<text x="695.3" y="880.6" font-size="8.6" fill="#555" text-anchor="start" font-weight="normal" >60%</text>
<circle cx="601.7" cy="256.3" r="6.8" fill="#6ea54c"/>
<text x="601.7" y="259.6" font-size="8.5" fill="#fff" text-anchor="middle" font-weight="normal" >Y</text>
<text x="610.0" y="251.8" font-size="8.2" fill="#555" text-anchor="start" font-weight="normal" >$397</text>
<text x="610.0" y="263.8" font-size="8.2" fill="#555" text-anchor="start" font-weight="normal" >3%</text>
<circle cx="606.1" cy="442" r="6.8" fill="#6ea54c"/>
<text x="606.1" y="445.3" font-size="8.5" fill="#fff" text-anchor="middle" font-weight="normal" >Y</text>
<text x="614.4" y="437.5" font-size="8.2" fill="#555" text-anchor="start" font-weight="normal" >$397</text>
<text x="614.4" y="449.5" font-size="8.2" fill="#555" text-anchor="start" font-weight="normal" >3%</text>
<circle cx="607.2" cy="632" r="6.8" fill="#6ea54c"/>
<text x="607.2" y="635.3" font-size="8.5" fill="#fff" text-anchor="middle" font-weight="normal" >Y</text>
<text x="615.5" y="627.5" font-size="8.2" fill="#555" text-anchor="start" font-weight="normal" >$397</text>
<text x="615.5" y="639.5" font-size="8.2" fill="#555" text-anchor="start" font-weight="normal" >3%</text>
<circle cx="601.6" cy="813.7" r="6.8" fill="#6ea54c"/>
<text x="601.6" y="817.0" font-size="8.5" fill="#fff" text-anchor="middle" font-weight="normal" >Y</text>
<text x="609.9" y="809.2" font-size="8.2" fill="#555" text-anchor="start" font-weight="normal" >$397</text>
<text x="609.9" y="821.2" font-size="8.2" fill="#555" text-anchor="start" font-weight="normal" >3%</text>
<polygon points="636.7,256.3 629.7,251.3 629.7,261.3" fill="#a0a0a0"/>
<polygon points="645.3,441.3 638.3,436.3 638.3,446.3" fill="#a0a0a0"/>
<polygon points="636.6,624.3 629.6,619.3 629.6,629.3" fill="#a0a0a0"/>
<polygon points="636.6,804.5 629.6,799.5 629.6,809.5" fill="#a0a0a0"/>
<circle cx="738.8" cy="255.4" r="6.8" fill="#6ea54c"/>
<text x="738.8" y="258.7" font-size="8.5" fill="#fff" text-anchor="middle" font-weight="normal" >Y</text>
<text x="734.8" y="271.4" font-size="8.6" fill="#555" text-anchor="start" font-weight="normal" >40%</text>
<circle cx="746" cy="440.7" r="6.8" fill="#6ea54c"/>
<text x="746.0" y="444.0" font-size="8.5" fill="#fff" text-anchor="middle" font-weight="normal" >Y</text>
<text x="742.0" y="456.7" font-size="8.6" fill="#555" text-anchor="start" font-weight="normal" >40%</text>
<circle cx="738.9" cy="624.5" r="6.8" fill="#6ea54c"/>
<text x="738.9" y="627.8" font-size="8.5" fill="#fff" text-anchor="middle" font-weight="normal" >Y</text>
<text x="734.9" y="640.5" font-size="8.6" fill="#555" text-anchor="start" font-weight="normal" >40%</text>
<circle cx="738.9" cy="805.4" r="6.8" fill="#6ea54c"/>
<text x="738.9" y="808.7" font-size="8.5" fill="#fff" text-anchor="middle" font-weight="normal" >Y</text>
<text x="734.9" y="821.4" font-size="8.6" fill="#555" text-anchor="start" font-weight="normal" >40%</text>
<polygon points="156.5,348 162.8,343.5 162.8,352.5" fill="#a0a0a0"/>
</svg>
<div class="abs" style="left:0;top:898px;width:750px;height:71.5px;background:#f2f6fe;"></div>
<div class="t" style="left:24px;top:918px;font-size:30px;font-weight:bold;color:#2860d4;letter-spacing:-1.25px;">Learn more</div>
<svg class="abs" style="left:686px;top:914px;" width="40" height="40" viewBox="0 0 40 40">
<path d="M20.2,6.3 H9.3 Q6.5,6.3 6.5,9.1 V30.5 Q6.5,33.3 9.3,33.3 H30.7 Q33.5,33.3 33.5,30.5 V19.8" fill="none" stroke="#2860d4" stroke-width="3"/>
<path d="M23.2,6.3 H33.5 V16.2 M32.8,7.2 L14.8,25.2" fill="none" stroke="#2860d4" stroke-width="3"/>
</svg>
<div class="t" style="left:25px;top:997.4px;font-size:32px;color:#0f0f0f;letter-spacing:0.36px;">Get Lifetime Access For Just $67</div>
<div class="abs" style="left:721.5px;top:1000.3px;width:5px;height:5px;border-radius:50%;background:#0f0f0f;"></div>
<div class="abs" style="left:721.5px;top:1009.3px;width:5px;height:5px;border-radius:50%;background:#0f0f0f;"></div>
<div class="abs" style="left:721.5px;top:1018.4px;width:5px;height:5px;border-radius:50%;background:#0f0f0f;"></div>
<div class="t" style="left:25px;top:1042.8px;font-size:24.5px;color:#606060;letter-spacing:1.18px;">The #1 Funnel Mapper That Lets You Test Your</div>
<div class="t" style="left:25px;top:1073.1px;font-size:24.5px;color:#606060;letter-spacing:1.3px;">Funnel&#8217;s Performance Without Spending A Dime</div>
<div class="t" style="left:25px;top:1111.8px;font-size:24px;color:#0f0f0f;font-weight:bold;">Ad</div>
<div class="abs" style="left:68.2px;top:1122.8px;width:4.4px;height:4.4px;border-radius:50%;background:#606060;"></div>
<div class="t" style="left:85px;top:1111.8px;font-size:24px;color:#606060;">Geru</div>
<div class="abs" style="left:0;top:1186px;width:750px;height:11.5px;background:#e5e5e5;"></div>
<div class="abs" style="left:0;top:1197.5px;width:750px;height:40px;background:#000;overflow:hidden;">
  <div class="abs" style="left:240px;top:0;width:271px;height:40px;background:#fdfcfc;"></div>
  <div class="abs" style="left:253px;top:14px;width:244px;height:40px;border:1px solid #d8aab0;box-sizing:border-box;"></div>
  <div class="t" style="left:266.7px;top:23.3px;font-size:11.8px;font-weight:bold;color:#2a2a2a;transform:scaleX(0.644);transform-origin:0 0;">21 WAYS TO ACHIEVE LASTING HAPPINESS AND SUCCESS</div>
</div>
<div class="abs" style="left:0;top:1237.5px;width:750px;height:97px;background:#fff;"></div>
<!-- home -->
<svg class="abs" style="left:55px;top:1252px;" width="40" height="44" viewBox="0 0 40 44">
<path d="M4,18 L20,4.3 L36,18 V39.7 H24 V27.3 H15.7 V39.7 H4 Z" fill="#0f0f0f"/>
</svg>
<div class="t" style="left:49.5px;top:1303.8px;font-size:19px;color:#0f0f0f;letter-spacing:0.5px;">Home</div>
<svg class="abs" style="left:200px;top:1248px;" width="50" height="50" viewBox="0 0 50 50">
<path d="M30.5,7.5 C35,5 40,7 41,11.5 C42,15 40,18 37.5,19.5 L35,21 C39,22 42,25 41.5,29.5 C41,32 39,34 37,35 L21,43.5 C16.5,46 11.5,44 10.5,39.5 C9.5,36 11.5,33 14,31.5 L16.5,30 C12.5,29 9.5,26 10,21.5 C10.5,19 12.5,17 14.5,16 Z" fill="none" stroke="#0f0f0f" stroke-width="2.6" stroke-linejoin="round"/>
<polygon points="21.5,20 31.5,25.5 21.5,31" fill="#0f0f0f"/>
</svg>
<div class="t" style="left:196.5px;top:1303.8px;font-size:19px;color:#0f0f0f;letter-spacing:0.5px;">Shorts</div>
<svg class="abs" style="left:335px;top:1243px;" width="80" height="80" viewBox="0 0 80 80">
<circle cx="40" cy="40" r="31" fill="none" stroke="#0f0f0f" stroke-width="2.8"/>
<path d="M22,40 H58 M40,22 V58" stroke="#0f0f0f" stroke-width="3.7"/>
</svg>
<svg class="abs" style="left:500px;top:1250px;" width="60" height="46" viewBox="0 0 60 46">
<path d="M15,7 H31 M9,13 H29" stroke="#0f0f0f" stroke-width="2.2"/>
<path d="M31,18.5 H6.5 V40.3 H43.8 V24" fill="none" stroke="#0f0f0f" stroke-width="2.6"/>
<polygon points="21,24 30.7,30 21,36" fill="#0f0f0f"/>
<circle cx="41" cy="13" r="8" fill="#e62d27"/>
</svg>
<div class="t" style="left:464.5px;top:1303.8px;font-size:19px;color:#0f0f0f;letter-spacing:0.5px;">Subscriptions</div>
<svg class="abs" style="left:650px;top:1250px;" width="50" height="46" viewBox="0 0 50 46">
<rect x="14.5" y="7.5" width="27" height="27" fill="none" stroke="#0f0f0f" stroke-width="2.4"/>
<path d="M8,12 V40.3 H37" fill="none" stroke="#0f0f0f" stroke-width="2.4"/>
<polygon points="23,14 34.4,21 23,28" fill="#0f0f0f"/>
</svg>
<div class="t" style="left:644.5px;top:1303.8px;font-size:19px;color:#0f0f0f;letter-spacing:0.5px;">Library</div>
<!-- header chips -->
<div class="abs" style="left:0;top:0;width:750px;height:72px;background:#fff;"></div>
<div class="abs" style="left:24px;top:0;width:84px;height:56px;background:#f2f2f2;border-radius:8px;"></div>
<div class="abs" style="left:42.5px;top:-4px;width:48px;height:48px;border:2.4px solid #0f0f0f;border-radius:50%;box-sizing:border-box;"></div>
<div class="abs" style="left:132.5px;top:36px;width:1.5px;height:20px;background:#dedede;"></div>
<div class="abs" style="left:160.5px;top:4px;width:77px;height:52px;background:#606060;border-radius:26px;"></div>
<div class="abs" style="left:257px;top:4px;width:100px;height:52px;background:#f2f2f2;border-radius:26px;box-shadow:inset 0 0 0 1.5px #dcdcdc;"></div>
<div class="abs" style="left:374px;top:4px;width:125px;height:52px;background:#f2f2f2;border-radius:26px;box-shadow:inset 0 0 0 1.5px #dcdcdc;"></div>
<div class="abs" style="left:517px;top:4px;width:122px;height:52px;background:#f2f2f2;border-radius:26px;box-shadow:inset 0 0 0 1.5px #dcdcdc;"></div>
<div class="abs" style="left:657px;top:4px;width:130px;height:52px;background:#f2f2f2;border-radius:26px;box-shadow:inset 0 0 0 1.5px #dcdcdc;"></div>
<!-- status bar -->
<div class="abs" style="left:0;top:0;width:750px;height:40px;background:#fff;"></div>
<div class="t" style="left:14px;top:10.5px;font-size:23.5px;color:#000;letter-spacing:0.45px;">SOS only</div>
<svg class="abs" style="left:124px;top:8px;" width="34" height="26" viewBox="0 0 34 26">
<path d="M0.96,7.66 A21.7,21.7 0 0 1 31.64,7.66 L28.46,10.84 A17.2,17.2 0 0 0 4.14,10.84 Z" fill="#c6c6c6"/>
<path d="M6.4,13.1 A14,14 0 0 1 26.2,13.1 L23.02,16.28 A9.5,9.5 0 0 0 9.58,16.28 Z" fill="#000"/>
<path d="M16.3,23 L11.49,18.19 A6.8,6.8 0 0 1 21.11,18.19 Z" fill="#000"/>
</svg>
<div class="t" style="left:325.5px;top:10.5px;font-size:23.5px;color:#000;font-weight:bold;letter-spacing:1.9px;">8:43 PM</div>
<div class="abs" style="left:691.5px;top:8px;width:43px;height:22px;border:2px solid #9a9a9a;border-radius:7px;box-sizing:border-box;"></div>
<div class="abs" style="left:695px;top:11.8px;width:28.5px;height:15px;background:#000;border-radius:3.5px;"></div>
<div class="abs" style="left:736.5px;top:16px;width:2.5px;height:7px;background:#9a9a9a;border-radius:0 2px 2px 0;"></div>
</body></html>
